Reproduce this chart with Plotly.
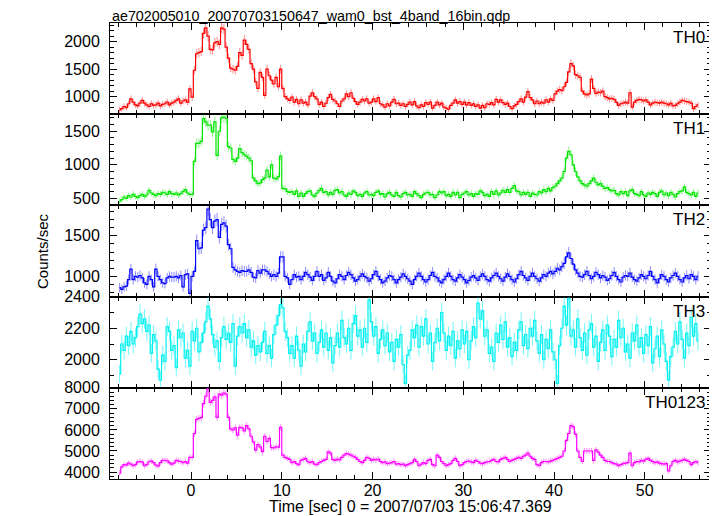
import numpy as np
import plotly.graph_objects as go
from plotly.subplots import make_subplots

# time bins: 0.25 s bins from -8 to 56 s
t_start = -8.0
bin_w = 0.25

th0 = [
 760, 780, 820, 800,   870, 960, 900, 850,   830, 880, 930, 880,   850, 820, 870, 840,
 850, 880, 830, 860,   870, 900, 850, 880,   900, 930, 960, 880,   920, 940, 900, 1140,
 990, 1480, 1780, 1800, 1820, 2150, 2250, 2100, 1860, 1850, 1980, 2000, 1950, 2250, 2230, 1900,
 1700, 1520, 1500, 1480, 1550, 1800, 1750, 2030, 1950, 1860, 1600, 1500, 1270, 1150, 1440, 1350,
 1020, 1500, 1380, 1300, 1230, 1350, 1180, 1500, 1150, 1000, 960, 930,  990, 900, 950, 870,
 940, 880, 900, 850,   1010, 1070, 1000, 960, 860, 900, 820, 880,   980, 1040, 950, 920,
 870, 820, 920, 960,   1050, 1000, 1070, 970, 910, 860, 900, 950,   920, 960, 880, 900,
 960, 910, 980, 870,   850, 810, 870, 830,   900, 950, 870, 880,   840, 870, 820, 860,
 900, 850, 910, 830,   800, 850, 820, 890,   860, 900, 790, 840,   900, 850, 880, 810,
 790, 770, 840, 880,   940, 880, 910, 860,   900, 850, 890, 840,   870, 820, 850, 790,
 840, 800, 870, 860,   890, 850, 950, 900,   940, 890, 860, 880,   820, 780, 830, 860,
 910, 960, 900, 990,   1090, 980, 940, 870,  920, 870, 900, 880,   940, 900, 960, 930,
 1050, 1100, 1130, 1110, 1180, 1260, 1450, 1600, 1560, 1400, 1380, 1350, 1100, 1050, 1030, 1050,
 1320, 1150, 1060, 1080, 1070, 1100, 1000, 980, 960, 970, 950, 900,   840, 870, 880, 900,
 880, 1070, 810, 900,  930, 950, 940, 920,   940, 900, 850, 880,   900, 890, 880, 900,
 880, 870, 850, 880,   830, 840, 870, 900,   930, 920, 910, 900,   880, 780, 820, 850,
]

th1 = [
 460, 480, 520, 500,   540, 520, 560, 530,   510, 540, 560, 530,   550, 620, 580, 560,
 540, 570, 560, 590,   580, 560, 600, 570,   560, 580, 550, 570,   600, 630, 580, 560,
 560, 1050, 1320, 1320, 1350, 1690, 1640, 1590, 1590, 1490, 1640, 1140, 1500, 1700, 1710, 1690,
 1270, 1250, 1080, 1050, 1100, 1240, 1180, 1150, 1130, 1100, 1060, 800, 760, 720, 730, 780,
 800, 920, 820, 1000,  800, 790, 820, 1130,  650, 640, 600, 590,   600, 560, 610, 530,
 580, 530, 570, 600,   610, 550, 530, 580,   620, 650, 590, 600,   550, 590, 560, 620,
 630, 580, 600, 550,   530, 580, 560, 610,   590, 540, 560, 530,   580, 600, 550, 560,
 540, 590, 610, 560,   570, 520, 570, 590,   550, 530, 590, 540,   520, 570, 590, 550,
 560, 530, 600, 570,   540, 510, 560, 580,   590, 550, 560, 510,   550, 600, 580, 600,
 540, 560, 530, 590,   550, 590, 510, 560,   580, 600, 550, 570,   530, 570, 560, 610,
 590, 540, 560, 530,   600, 560, 610, 550,   580, 620, 590, 630,   590, 650, 690, 610,
 600, 550, 590, 560,   590, 530, 580, 560,   550, 600, 580, 630,   600, 650, 610, 660,
 680, 720, 760, 800,   900, 1100, 1200, 1150, 1000, 900, 820, 760,  720, 700, 680, 720,
 760, 800, 740, 700,   720, 680, 650, 660,   630, 610, 620, 570,   550, 600, 570, 600,
 540, 610, 630, 570,   560, 540, 600, 550,   530, 580, 560, 590,   570, 530, 590, 610,
 550, 580, 540, 590,   560, 520, 570, 600,   610, 670, 590, 570,   550, 590, 530, 580,
]

th2 = [
 860, 840, 870, 880,   960, 1090, 960, 1000, 990, 1010, 980, 920,  900, 1000, 960, 870,
 1090, 1000, 960, 920, 910, 980, 1000, 990, 990, 1000, 980, 1010, 870, 1020, 1030, 790,
 1000, 1060, 1440, 1340, 1350, 1570, 1600, 1830, 1700, 1600, 1680, 1700, 1480, 1640, 1660, 1620,
 1390, 1340, 1110, 1080, 1060, 1050, 1070, 1060, 1060, 1080, 1050, 990, 980, 1070, 1040, 1080,
 1080, 1060, 1030, 1000, 1020, 1000, 1040, 1240, 1240, 1000, 980, 900, 960, 1020, 990, 1000,
 960, 1000, 1050, 1020, 990, 950, 1000, 1060, 1000, 1020, 950, 980, 1050, 1000, 940, 920,
 970, 1020, 1000, 960, 1010, 1050, 1020, 980, 940, 960, 1000, 1030, 1000, 980, 940, 970,
 1020, 1060, 1000, 960, 920, 940, 980, 1010, 1000, 960, 920, 960,  990, 1030, 1000, 970,
 940, 900, 960, 1000,  1040, 1000, 960, 930, 960, 1010, 1050, 1000, 980, 940, 920, 960,
 1000, 1040, 1000, 960, 940, 980, 1020, 990, 960, 920, 950, 990,   1010, 980, 950, 1000,
 1030, 1000, 960, 940, 980, 1010, 1040, 1000, 970, 940, 990, 1030, 1000, 960, 930, 970,
 1020, 1060, 1010, 980, 950, 1000, 1040, 1000, 970, 940, 980, 1020, 1000, 1040, 1060, 1030,
 1060, 1100, 1080, 1120, 1160, 1240, 1290, 1220, 1150, 1080, 1040, 1000, 990, 1020, 1060, 1010,
 970, 1000, 1050, 1020, 980, 1010, 990, 950,  970, 1010, 1050, 1000, 960, 930, 990, 1010,
 1000, 1040, 990, 960, 940, 980, 1020, 1000, 970, 1010, 1060, 1000, 960, 920, 970, 1020,
 1000, 960, 930, 980,  1010, 1040, 1000, 960, 930, 980, 1010, 970,  1020, 1000, 960, 1000,
]

th3 = [
 1910, 2100, 2060, 2150, 2090, 2180, 2100, 2140, 2210, 2290, 2230, 2260, 2180, 2220, 2040, 2160,
 2120, 1940, 1870, 2030, 1990, 2210, 2180, 2060, 2090, 1950, 2190, 2140, 2170, 2010, 2060, 1960,
 2180, 2120, 2200, 2050, 2110, 2170, 2240, 2340, 2260, 2160, 2080, 2120, 1990, 2140, 2210, 2130,
 2170, 2110, 2230, 1960, 2150, 2210, 2170, 2230, 2140, 2190, 2080, 2120, 2030, 2090, 2050, 2110,
 2180, 2040, 2090, 2010, 2160, 2220, 2280, 2350, 2330, 2180, 2140, 2040, 2090, 2010, 2150, 2060,
 1960, 2100, 2050, 2180, 2240, 2120, 2170, 2040, 2110, 2190, 2080, 2170, 2060, 2140, 1980, 2090,
 2170, 2080, 2250, 2140, 2100, 2200, 2060, 2230, 2280, 2150, 2190, 2080, 2200, 2110, 2380, 2240,
 2150, 2210, 2040, 2130, 2190, 2090, 2170, 2050, 2110, 1990, 2130, 2080, 2160, 1970, 1850, 2030,
 2060, 2190, 2140, 2220, 2080, 2210, 2150, 2260, 2100, 2170, 1990, 2110, 2200, 2120, 2300, 2170,
 2060, 2150, 2090, 2180, 2010, 2120, 2070, 2190, 2100, 2180, 2000, 2120, 2210, 2140, 2360, 2260,
 2310, 2150, 2190, 2040, 2080, 1990, 2170, 2110, 2220, 2130, 2240, 2080, 2140, 2020, 2110, 2060,
 2190, 2240, 2090, 2160, 2070, 2200, 2150, 2250, 2120, 2040, 2160, 2000, 2130, 2070, 2190, 2050,
 2000, 1850, 2090, 2200, 2340, 2220, 2390, 2150, 2190, 2080, 2260, 2140, 2060, 2170, 2030, 2190,
 2230, 2080, 2150, 1990, 2110, 2190, 2060, 2220, 2150, 2020, 2130, 2080, 2250, 2140, 2200, 2050,
 2100, 2010, 2170, 2120, 2220, 2080, 2140, 2040, 2160, 2090, 2210, 1980, 2070, 2150, 2020, 2190,
 2100, 1990, 1870, 2020, 2080, 2180, 2100, 2240, 2130, 2010, 2170, 2090, 2270, 2150, 2230, 2120,
]

th0123 = [
 3950, 4250, 4350, 4330, 4420, 4380, 4300, 4350, 4480, 4500, 4470, 4300, 4350, 4490, 4520, 4450,
 4330, 4280, 4450, 4550, 4560, 4530, 4450, 4380, 4420, 4550, 4520, 4500, 4450, 4500, 4420, 4700,
 4700, 5830, 6500, 6550, 6580, 7250, 7600, 7950, 7310, 7400, 7570, 6600, 7700, 7650, 7750, 7700,
 6600, 6050, 6000, 6100, 5750, 6120, 6100, 5950, 6200, 6050, 5700, 5430, 5040, 5300, 5200, 4970,
 5700, 5450, 5600, 5160, 5150, 5200, 5180, 6120, 4800, 4700, 4650, 4600, 4450, 4500, 4400, 4350,
 4550, 4600, 4650, 4500, 4450, 4500, 4380, 4350, 4450, 4500, 4550, 4600, 4960, 4900, 4600, 4550,
 4620, 4580, 4700, 4800, 4880, 4850, 4800, 4750, 4700, 4600, 4500, 4450, 4550, 4700, 4650, 4550,
 4600, 4580, 4620, 4500, 4450, 4480, 4400, 4420, 4450, 4500, 4380, 4400, 4350, 4380, 4300, 4350,
 4400, 4450, 4600, 4500, 4300, 4380, 4450, 4400, 4550, 4600, 4350, 4300, 4800, 4700, 4500, 4400,
 4300, 4350, 4400, 4550, 4650, 4500, 4300, 4350, 4450, 4500, 4520, 4480, 4450, 4550, 4500, 4420,
 4400, 4450, 4480, 4500, 4550, 4600, 4500, 4480, 4600, 4650, 4700, 4600, 4500, 4550, 4600, 4650,
 4700, 4650, 4750, 4800, 4900, 4750, 4650, 4600, 4350, 4300, 4450, 4500, 4500, 4480, 4520, 4550,
 4600, 4650, 4700, 4750, 5000, 5500, 5830, 6200, 6150, 5800, 5000, 4700, 4500, 5000, 5000, 5000,
 5000, 4550, 5050, 4950, 4800, 4700, 4550, 4500, 4500, 4450, 4400, 4380, 4300, 4350, 4400, 4420,
 4450, 4900, 4300, 4450, 4500, 4480, 4550, 4520, 4600, 4650, 4550, 4500, 4450, 4480, 4420, 4400,
 4380, 4400, 4050, 4300, 4500, 4550, 4480, 4520, 4550, 4600, 4550, 4500, 4350, 4450, 4500, 4450,
]

panel_names = ["TH0", "TH1", "TH2", "TH3", "TH0123"]
series = [th0, th1, th2, th3, th0123]
colors = ["rgb(255,0,0)", "rgb(0,230,0)", "rgb(0,0,255)", "rgb(0,240,240)", "rgb(255,0,255)"]
err_colors = ["rgba(255,0,0,0.45)", "rgba(0,230,0,0.45)", "rgba(0,0,255,0.45)",
              "rgba(0,240,240,0.55)", "rgba(255,0,255,0.45)"]
err_scale = [2.0, 2.0, 2.0, 1.3, 2.0]
y_ranges = [[680, 2340], [395, 1754], [750, 1875], [1822, 2401], [3670, 8001]]
y_dtick = [500, 500, 500, 200, 1000]
y_minor = [100, 100, 100, 100, 200]

n = len(th0)
t = t_start + bin_w * (np.arange(n) + 0.5)

fig = make_subplots(rows=5, cols=1, shared_xaxes=True, vertical_spacing=0)

for i, (vals, col, ecol) in enumerate(zip(series, colors, err_colors)):
    v = np.array(vals, dtype=float)
    err = err_scale[i] * np.sqrt(v)
    fig.add_trace(go.Scatter(x=t, y=v, mode="markers", marker=dict(size=0.1, color=ecol),
                             error_y=dict(type="data", array=err, color=ecol, thickness=1, width=0),
                             showlegend=False, hoverinfo="skip"), row=i + 1, col=1)
    fig.add_trace(go.Scatter(x=t, y=v, mode="lines", line=dict(color=col, width=1.2, shape="hvh"),
                             showlegend=False), row=i + 1, col=1)

axis_common = dict(showline=True, linecolor="black", linewidth=1, mirror="allticks",
                   ticks="inside", ticklen=7, tickcolor="black", tickwidth=1,
                   showgrid=False, zeroline=False)

for i in range(5):
    fig.update_yaxes(range=y_ranges[i], dtick=y_dtick[i], tick0=0,
                     minor=dict(ticks="inside", ticklen=4, dtick=y_minor[i], tick0=0, tickcolor="black"),
                     tickfont=dict(family="Liberation Sans", size=16, color="black"),
                     ticklabelstandoff=6,
                     row=i + 1, col=1, **axis_common)
    fig.update_xaxes(range=[-8.93, 57.3], dtick=10, tick0=0,
                     minor=dict(ticks="inside", ticklen=4, dtick=2, tick0=0, tickcolor="black"),
                     tickfont=dict(family="Liberation Sans", size=16, color="black"),
                     ticklabelstandoff=-3,
                     row=i + 1, col=1, **axis_common)

# panel labels
for i, name in enumerate(panel_names):
    yref = "y domain" if i == 0 else f"y{i + 1} domain"
    xref = "x domain" if i == 0 else f"x{i + 1} domain"
    fig.add_annotation(text=name, xref=xref, yref=yref, x=0.993, y=1.0, xanchor="right",
                       yanchor="top", yshift=-3, showarrow=False,
                       font=dict(family="Liberation Sans", size=17, color="black"))

fig.add_annotation(text="ae702005010_20070703150647_wam0_bst_4band_16bin.qdp", xref="paper", yref="paper",
                   x=0, y=1, xanchor="left", yanchor="bottom", yshift=-3, showarrow=False,
                   font=dict(family="Liberation Sans", size=14.3, color="black"))
fig.add_annotation(text="Counts/sec", xref="paper", yref="paper", x=0, y=0.5, xanchor="center",
                   yanchor="middle", xshift=-68, textangle=-90, showarrow=False,
                   font=dict(family="Liberation Sans", size=15, color="black"))
fig.add_annotation(text="Time [sec] 0 = 2007/07/03 15:06:47.369", xref="paper", yref="paper",
                   x=0.5, y=0, xanchor="center", yanchor="top", yshift=-17, showarrow=False,
                   font=dict(family="Liberation Sans", size=16, color="black"))

# page body has an 8 px margin, so size the figure to land on the same pixels as the reference
fig.update_layout(width=709, height=508, margin=dict(l=102, r=6, t=15, b=37),
                  paper_bgcolor="white", plot_bgcolor="white", showlegend=False)

fig.write_html("out.html")
